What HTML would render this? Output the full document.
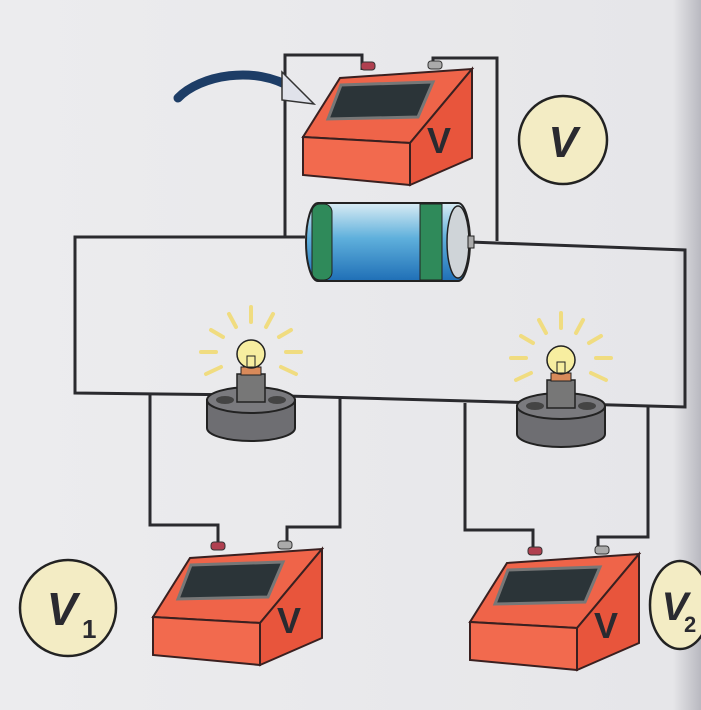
<!DOCTYPE html>
<html><head><style>
html,body{margin:0;padding:0;background:#e9e9eb;}
svg{display:block;}
</style></head><body>
<svg width="701" height="710" viewBox="0 0 701 710" xmlns="http://www.w3.org/2000/svg" font-family="Liberation Sans, sans-serif">
<defs>
<linearGradient id="bg" x1="0" x2="1"><stop offset="0" stop-color="#ececee"/><stop offset="0.96" stop-color="#e6e6e9"/><stop offset="1" stop-color="#b9b9c0"/></linearGradient>
<linearGradient id="bat" x1="0" y1="0" x2="0" y2="1"><stop offset="0" stop-color="#d9ecf4"/><stop offset="0.45" stop-color="#5fb0dc"/><stop offset="1" stop-color="#1f6fb6"/></linearGradient>
<g id="meter">
<polygon points="0,0 107,6 169,-68 37,-59" fill="#ef6449" stroke="#3a2020" stroke-width="2"/>
<polygon points="107,6 169,-68 169,21 107,48" fill="#e8553c" stroke="#3a2020" stroke-width="2"/>
<polygon points="0,0 107,6 107,48 0,38" fill="#f26a4e" stroke="#3a2020" stroke-width="2"/>
<polygon points="25,-18 38,-52 130,-55 115,-20" fill="#2b3438" stroke="#777" stroke-width="3"/>
<text x="124" y="16" font-size="36" font-weight="bold" fill="#2a2a30">V</text>
<rect x="58" y="-75" width="14" height="8" rx="3" fill="#b04050" stroke="#333"/>
<rect x="125" y="-76" width="14" height="8" rx="3" fill="#aaa" stroke="#333"/>
</g>
<g id="bulb">
<g stroke="#f0dc80" stroke-width="4" stroke-linecap="round">
<line x1="0" y1="-65" x2="0" y2="-50"/><line x1="-22" y1="-58" x2="-15" y2="-45"/><line x1="22" y1="-58" x2="15" y2="-45"/>
<line x1="-40" y1="-42" x2="-28" y2="-35"/><line x1="40" y1="-42" x2="28" y2="-35"/>
<line x1="-50" y1="-20" x2="-35" y2="-20"/><line x1="50" y1="-20" x2="35" y2="-20"/>
<line x1="-45" y1="2" x2="-30" y2="-5"/><line x1="45" y1="2" x2="30" y2="-5"/>
</g>
<path d="M-44,28 v28 a44,13 0 0 0 88,0 v-28 z" fill="#6e6e72" stroke="#222" stroke-width="2"/>
<ellipse cx="0" cy="28" rx="44" ry="13" fill="#7a7a7e" stroke="#222" stroke-width="2"/>
<ellipse cx="-26" cy="28" rx="9" ry="4" fill="#444"/><ellipse cx="26" cy="28" rx="9" ry="4" fill="#444"/>
<rect x="-14" y="2" width="28" height="28" fill="#777" stroke="#222" stroke-width="1.5"/>
<rect x="-10" y="-5" width="20" height="8" fill="#d98a5a" stroke="#222"/>
<circle cx="0" cy="-18" r="14" fill="#f7eea0" stroke="#222" stroke-width="1.5"/>
<rect x="-4" y="-16" width="8" height="11" fill="none" stroke="#222"/>
</g>
</defs>
<rect width="701" height="710" fill="url(#bg)"/>
<g fill="none" stroke="#2a2a2e" stroke-width="3">
<polyline points="305,237 75,237 75,393 251,395 685,407 685,250 470,242"/>
<polyline points="362,70 362,55 285,55 285,237"/>
<polyline points="433,68 433,58 497,58 497,241"/>
<polyline points="150,394 150,525 218,525 218,543"/>
<polyline points="340,397 340,527 287,527 287,542"/>
<polyline points="465,403 465,530 533,530 533,548"/>
<polyline points="648,407 648,537 598,537 598,548"/>
</g>
<use href="#meter" transform="translate(303,137)"/>
<use href="#meter" transform="translate(153,617)"/>
<use href="#meter" transform="translate(470,622)"/>
<g>
<path d="M318,203 h140 a12,39 0 0 1 0,78 h-140 a12,39 0 0 1 0,-78 z" fill="url(#bat)" stroke="#222" stroke-width="2"/>
<rect x="312" y="204" width="20" height="76" rx="8" fill="#2f8a5a" stroke="#222"/>
<rect x="420" y="204" width="22" height="76" fill="#2f8a5a" stroke="#222"/>
<ellipse cx="458" cy="242" rx="11" ry="36" fill="#cfd4d8" stroke="#222" stroke-width="1.5"/>
<rect x="468" y="236" width="6" height="12" fill="#aaa" stroke="#222"/>
</g>
<use href="#bulb" transform="translate(251,372)"/>
<use href="#bulb" transform="translate(561,378)"/>
<path d="M178,98 C200,75 255,65 292,88" fill="none" stroke="#1d3d66" stroke-width="9" stroke-linecap="round"/>
<polygon points="282,72 314,104 282,100" fill="#e0e2ea" stroke="#333" stroke-width="1.5"/>
<circle cx="563" cy="140" r="44" fill="#f3ecc4" stroke="#222" stroke-width="2.5"/>
<text x="563" y="157" font-size="44" font-weight="bold" font-style="italic" text-anchor="middle" fill="#2a2a30">V</text>
<circle cx="68" cy="608" r="48" fill="#f3ecc4" stroke="#222" stroke-width="2.5"/>
<text x="62" y="625" font-size="46" font-weight="bold" font-style="italic" text-anchor="middle" fill="#2a2a30">V</text>
<text x="82" y="638" font-size="26" font-weight="bold" fill="#2a2a30">1</text>
<ellipse cx="680" cy="605" rx="30" ry="44" fill="#f3ecc4" stroke="#222" stroke-width="2.5"/>
<text x="675" y="620" font-size="40" font-weight="bold" font-style="italic" text-anchor="middle" fill="#2a2a30">V</text>
<text x="684" y="632" font-size="22" font-weight="bold" fill="#2a2a30">2</text>
</svg>
</body></html>
